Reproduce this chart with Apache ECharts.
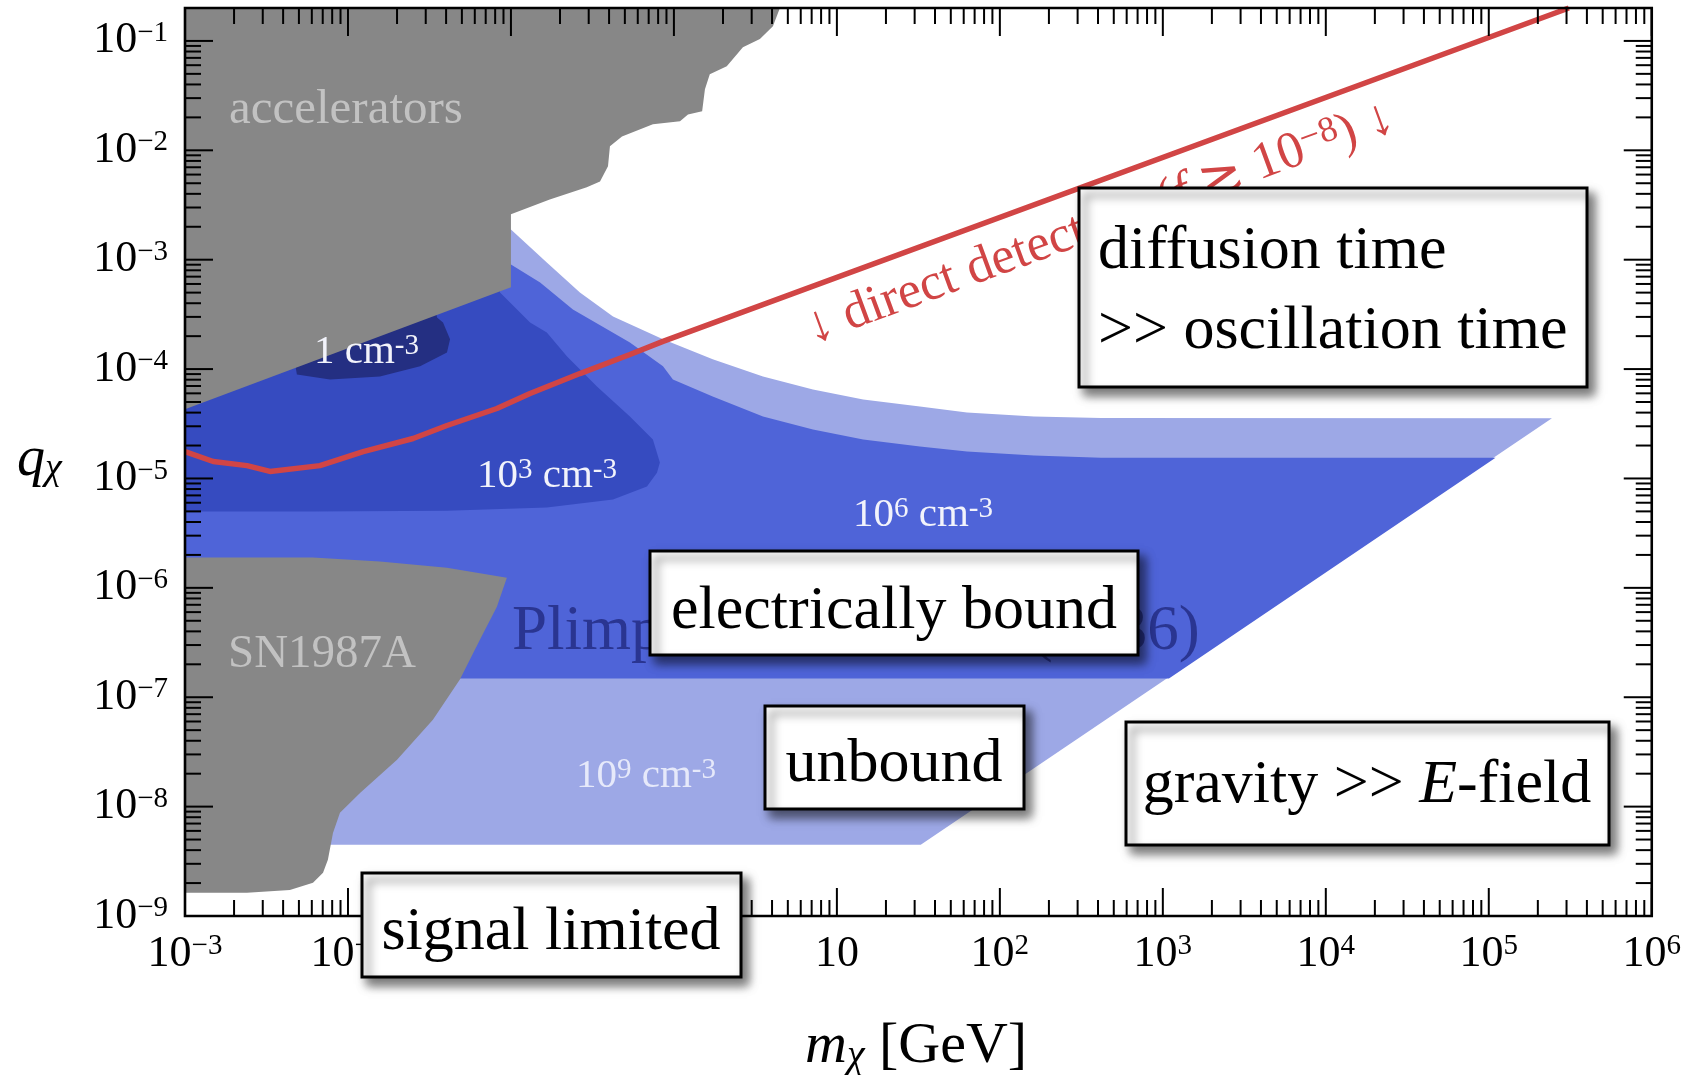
<!DOCTYPE html>
<html>
<head>
<meta charset="utf-8">
<title>Millicharged particle parameter space</title>
<script src="https://cdn.jsdelivr.net/npm/echarts@6/dist/echarts.min.js"></script>
<style>
  html, body { margin: 0; padding: 0; background: #ffffff; }
  #chart { width: 1684px; height: 1075px; }
</style>
</head>
<body>
<div id="chart"></div>
<script>
// ---- axis ranges: particle mass m_chi [GeV] and charge q_chi ----
const massRange = [1e-3, 1e6];
const chargeRange = [1e-9, 0.2];

// tick labels per decade: [mantissa text, superscript]
const xTickLabels = [['10', '\u22123'], ['10', '\u22122'], ['10', '\u22121'], ['1', ''], ['10', ''],
  ['10', '2'], ['10', '3'], ['10', '4'], ['10', '5'], ['10', '6']];
const yTickLabels = [['10', '\u22129'], ['10', '\u22128'], ['10', '\u22127'], ['10', '\u22126'], ['10', '\u22125'],
  ['10', '\u22124'], ['10', '\u22123'], ['10', '\u22122'], ['10', '\u22121']];

// ---- excluded regions, [mass GeV, charge] ----
const acceleratorBound = [
  [1e-3, 0.2], [4.47, 0.2], [4.05, 0.136], [3.37, 0.104], [2.65, 0.0876], [2.11, 0.0587],
  [1.66, 0.0495], [1.55, 0.0361], [1.49, 0.0227], [1.22, 0.0213], [1.09, 0.0184], [0.743, 0.0173],
  [0.48, 0.0134], [0.405, 0.0109], [0.394, 0.00714], [0.352, 0.0052], [0.292, 0.00459],
  [0.173, 0.00356], [0.1, 0.0026], [0.1, 5.6e-4], [1e-3, 4.3e-5]
];
const sn1987aBound = [
  [1e-3, 1.89e-6], [6.1e-3, 1.89e-6], [0.0157, 1.74e-6], [0.0405, 1.53e-6], [0.0944, 1.24e-6],
  [0.082, 6.73e-7], [0.0645, 3.36e-7], [0.0486, 1.45e-7], [0.0332, 6.22e-8], [0.02, 2.68e-8],
  [0.0119, 1.34e-8], [8.93e-3, 8.77e-9], [8.09e-3, 5.75e-9], [7.53e-3, 3.26e-9], [7.03e-3, 2.48e-9],
  [6.1e-3, 2.01e-9], [4.4e-3, 1.73e-9], [2.4e-3, 1.63e-9], [1e-3, 1.63e-9]
];

// ---- local density contours (cm^-3) ----
const density1e9 = [
  [1e-3, 1e-3], [0.09, 2.5e-3], [0.1, 1.89e-3], [0.166, 9.44e-4], [0.265, 5.02e-4], [0.423, 3.03e-4],
  [0.857, 1.87e-4], [1.73, 1.23e-4], [3.52, 8.57e-5], [7.13, 6.52e-5], [14.5, 5.28e-5], [32.3, 4.55e-5],
  [62.8, 4.01e-5], [162, 3.69e-5], [417, 3.58e-5], [2.44e5, 3.55e-5], [32.7, 4.48e-9], [1e-3, 4.48e-9]
];
const density1e6 = [
  [1e-3, 4e-4], [0.09, 1.2e-3], [0.1, 9.06e-4], [0.151, 6.19e-4], [0.24, 3.51e-4], [0.537, 1.75e-4],
  [0.857, 1.06e-4], [0.986, 8.04e-5], [1.73, 5.61e-5], [3.52, 3.68e-5], [7.13, 2.8e-5], [14.5, 2.27e-5],
  [32.3, 1.96e-5], [62.8, 1.76e-5], [162, 1.62e-5], [417, 1.55e-5], [1.1e5, 1.55e-5], [1.09e3, 1.48e-7],
  [1e-3, 1.48e-7]
];
const density1e3 = [
  [1e-3, 1e-3], [0.08, 1e-3], [0.0857, 5.0e-4], [0.131, 2.67e-4], [0.166, 2.16e-4], [0.221, 1.3e-4],
  [0.337, 6.93e-5], [0.537, 3.68e-5], [0.743, 2.27e-5], [0.82, 1.4e-5], [0.787, 1.13e-5], [0.683, 8.43e-6],
  [0.423, 6.41e-6], [0.166, 5.42e-6], [0.0405, 5.08e-6], [6.1e-3, 4.98e-6], [1e-3, 4.98e-6]
];
const density1 = [
  [4e-3, 5e-4], [4.86e-3, 8.93e-5], [7.76e-3, 8.04e-5], [0.0157, 8.57e-5], [0.0277, 1.06e-4],
  [0.0405, 1.42e-4], [0.0423, 1.87e-4], [0.0383, 2.67e-4], [0.0352, 2.96e-4], [0.03, 1e-3]
];

// ---- direct detection reach ----
const directDetection = [
  [1e-3, 1.76e-5], [1.49e-3, 1.43e-5], [2.4e-3, 1.31e-5], [3.32e-3, 1.16e-5], [6.73e-3, 1.31e-5],
  [0.0124, 1.76e-5], [0.0251, 2.32e-5], [0.0405, 3.05e-5], [0.082, 4.36e-5], [0.131, 5.98e-5],
  [0.265, 9.1e-5], [0.537, 1.36e-4], [0.857, 1.79e-4], [3.1e5, 0.2]
];

const FONT = '"Liberation Serif", "Times New Roman", "DejaVu Serif", serif';
const COLORS = {
  excluded: '#878787',
  d9: '#9da8e6',
  d6: '#4f64d8',
  d3: '#364bc0',
  d0: '#242f82',
  red: '#d14545'
};

function regionSeries(name, points, color) {
  return {
    type: 'custom', name, coordinateSystem: 'cartesian2d', silent: true, z: 2,
    data: [points[0]], encode: { x: 0, y: 1 },
    renderItem: (params, api) => ({
      type: 'polygon',
      shape: { points: points.map(p => api.coord(p)) },
      style: { fill: color }
    })
  };
}

// decade and 2..9 ticks drawn on all four sides, pointing inwards
const decadeSteps = [2, 3, 4, 5, 6, 7, 8, 9];
function decadeTicks(lo, hi) { const out = []; for (let e = lo; e <= hi; e++) out.push(Math.pow(10, e)); return out; }
function subTicks(lo, hi, maxVal) {
  const out = [];
  for (let e = lo; e < hi; e++) for (const k of decadeSteps) {
    const v = k * Math.pow(10, e);
    if (v < maxVal * 0.999) out.push(v);
  }
  return out;
}
function tickSeries(values, dir, len) {
  return {
    type: 'custom', silent: true, z: 20,
    data: values.map(v => dir === 'x' ? [v, chargeRange[0]] : [massRange[0], v]),
    encode: { x: 0, y: 1 },
    renderItem: (params, api) => {
      const cs = params.coordSys;
      const p = api.coord([api.value(0), api.value(1)]);
      const st = { stroke: '#000', lineWidth: 2 };
      if (dir === 'x') {
        const b = cs.y + cs.height, t = cs.y;
        return { type: 'group', children: [
          { type: 'line', shape: { x1: p[0], y1: b, x2: p[0], y2: b - len }, style: st },
          { type: 'line', shape: { x1: p[0], y1: t, x2: p[0], y2: t + len }, style: st }
        ] };
      }
      const l = cs.x, r = cs.x + cs.width;
      return { type: 'group', children: [
        { type: 'line', shape: { x1: l, y1: p[1], x2: l + len, y2: p[1] }, style: st },
        { type: 'line', shape: { x1: r, y1: p[1], x2: r - len, y2: p[1] }, style: st }
      ] };
    }
  };
}
const frameSeries = {
  type: 'custom', silent: true, z: 21,
  data: [[massRange[0], chargeRange[0]]], encode: { x: 0, y: 1 },
  renderItem: (params) => {
    const cs = params.coordSys;
    return { type: 'rect', shape: { x: cs.x, y: cs.y, width: cs.width, height: cs.height },
      style: { fill: 'none', stroke: '#000', lineWidth: 2.6 } };
  }
};

function decadeFormatter(list, firstExp) {
  return function (v) {
    const e = Math.log10(v), r = Math.round(e);
    if (Math.abs(e - r) > 1e-6) return '';
    const item = list[r - firstExp];
    if (!item) return '';
    return item[1] ? '{b|' + item[0] + '}{s|' + item[1] + '}' : '{b|' + item[0] + '}';
  };
}
const tickRich = {
  b: { fontFamily: FONT, fontSize: 44, lineHeight: 44, verticalAlign: 'bottom', color: '#000' },
  s: { fontFamily: FONT, fontSize: 29, lineHeight: 24, verticalAlign: 'top', color: '#000' }
};

// ---- annotation helpers ----
const DENSITY_SIZE = 41;
function densityLabel(x, y, base, color) {
  const sup = Math.round(DENSITY_SIZE * 0.7);
  const rich = {
    t: { fontFamily: FONT, fontSize: DENSITY_SIZE, lineHeight: DENSITY_SIZE, verticalAlign: 'bottom', fill: color, color },
    s: { fontFamily: FONT, fontSize: sup, lineHeight: Math.round(DENSITY_SIZE * 0.55), verticalAlign: 'top', fill: color, color }
  };
  const text = base.exp
    ? '{t|' + base.mant + '}{s|' + base.exp + '}{t| cm}{s|-3}'
    : '{t|' + base.mant + ' cm}{s|-3}';
  return { type: 'text', x, y, z: 50, silent: true,
    style: { text, align: 'left', verticalAlign: 'middle', fill: color, rich } };
}
function plainLabel(x, y, text, size, color, align) {
  return { type: 'text', x, y, z: 50, silent: true,
    style: { text, fontFamily: FONT, fontSize: size, fill: color, align: align || 'left', verticalAlign: 'middle' } };
}
function box(x, y, w, h) {
  return { type: 'rect', z: 100, silent: true,
    shape: { x, y, width: w, height: h },
    style: { fill: '#ffffff', stroke: '#000000', lineWidth: 3,
      shadowBlur: 10, shadowOffsetX: 6, shadowOffsetY: 7, shadowColor: 'rgba(0,0,0,0.55)' } };
}
const BOX_SIZE = 62;
function boxText(x, y, text, align, rich) {
  const el = { type: 'text', x, y, z: 101, silent: true,
    style: { text, fontFamily: FONT, fontSize: BOX_SIZE, fill: '#000', align: align || 'center', verticalAlign: 'middle' } };
  if (rich) el.style.rich = rich;
  return el;
}
const italicRich = {
  r: { fontFamily: FONT, fontSize: BOX_SIZE, fill: '#000', color: '#000' },
  i: { fontFamily: FONT, fontSize: BOX_SIZE, fontStyle: 'italic', fill: '#000', color: '#000' }
};

const option = {
  animation: false,
  backgroundColor: '#ffffff',
  grid: { left: 185, right: 32, top: 8, bottom: 159, show: false },
  xAxis: {
    type: 'log', logBase: 10, min: massRange[0], max: massRange[1], splitNumber: 9,
    axisLine: { show: false }, axisTick: { show: false }, splitLine: { show: false },
    axisLabel: { margin: 16, formatter: decadeFormatter(xTickLabels, -3), rich: tickRich }
  },
  yAxis: {
    type: 'log', logBase: 10, min: chargeRange[0], max: chargeRange[1], splitNumber: 9,
    axisLine: { show: false }, axisTick: { show: false }, splitLine: { show: false },
    axisLabel: { margin: 17, formatter: decadeFormatter(yTickLabels, -9), rich: tickRich }
  },
  series: [
    regionSeries('10^9 cm^-3', density1e9, COLORS.d9),
    regionSeries('10^6 cm^-3', density1e6, COLORS.d6),
    regionSeries('10^3 cm^-3', density1e3, COLORS.d3),
    regionSeries('1 cm^-3', density1, COLORS.d0),
    regionSeries('accelerators', acceleratorBound, COLORS.excluded),
    regionSeries('SN1987A', sn1987aBound, COLORS.excluded),
    {
      type: 'line', name: 'direct detection', data: directDetection, z: 5,
      showSymbol: false, symbol: 'none', clip: true, silent: true,
      lineStyle: { color: COLORS.red, width: 5.5 }
    },
    tickSeries(decadeTicks(-3, 6), 'x', 28),
    tickSeries(subTicks(-3, 6, massRange[1]), 'x', 16),
    tickSeries(decadeTicks(-9, -1), 'y', 28),
    tickSeries(subTicks(-9, 0, chargeRange[1]), 'y', 16),
    frameSeries
  ],
  graphic: { elements: [
    plainLabel(229, 110, 'accelerators', 49, '#c2c2c2'),
    plainLabel(228, 655, 'SN1987A', 47, '#c2c2c2'),
    densityLabel(314, 352, { mant: '1', exp: '' }, '#f2f3fb'),
    densityLabel(477, 476, { mant: '10', exp: '3' }, '#f2f3fb'),
    densityLabel(853, 515, { mant: '10', exp: '6' }, '#f2f3fb'),
    densityLabel(576, 776, { mant: '10', exp: '9' }, '#e6e9fa'),
    plainLabel(512, 632, 'Plimpton & Lawton (1936)', 63, '#2a3591'),
    {
      type: 'text', x: 808, y: 331, rotation: 0.352, z: 50, silent: true,
      style: {
        text: '{r|\u2193 direct detection (}{i|f}{r| \u2273 10}{s|\u22128}{r|) \u2193}',
        align: 'left', verticalAlign: 'middle', fill: COLORS.red,
        rich: {
          r: { fontFamily: FONT, fontSize: 52, lineHeight: 52, verticalAlign: 'bottom', fill: COLORS.red },
          i: { fontFamily: FONT, fontSize: 52, lineHeight: 52, verticalAlign: 'bottom', fontStyle: 'italic', fill: COLORS.red },
          s: { fontFamily: FONT, fontSize: 36, lineHeight: 32, verticalAlign: 'top', fill: COLORS.red }
        }
      }
    },
    // axis titles
    {
      type: 'text', x: 17, y: 460, z: 50, silent: true,
      style: { text: '{q|q}{c|\u03c7}', align: 'left', verticalAlign: 'middle', fill: '#000',
        rich: { q: { fontFamily: FONT, fontSize: 56, lineHeight: 56, fontStyle: 'italic', verticalAlign: 'top', fill: '#000' },
                c: { fontFamily: FONT, fontSize: 38, lineHeight: 42, fontStyle: 'italic', verticalAlign: 'bottom', fill: '#000' } } }
    },
    {
      type: 'text', x: 805, y: 1047, z: 50, silent: true,
      style: { text: '{m|m}{c|\u03c7}{r| [GeV]}', align: 'left', verticalAlign: 'middle', fill: '#000',
        rich: { m: { fontFamily: FONT, fontSize: 58, lineHeight: 58, fontStyle: 'italic', verticalAlign: 'top', fill: '#000' },
                c: { fontFamily: FONT, fontSize: 40, lineHeight: 44, fontStyle: 'italic', verticalAlign: 'bottom', fill: '#000' },
                r: { fontFamily: FONT, fontSize: 58, lineHeight: 58, verticalAlign: 'top', fill: '#000' } } }
    },
    // regime boxes
    box(1079, 188, 508, 199),
    boxText(1098, 252, 'diffusion time', 'left'),
    boxText(1098, 332, '>> oscillation time', 'left'),
    box(650, 551, 488, 104),
    boxText(894, 612, 'electrically bound'),
    box(765, 706, 259, 103),
    boxText(894, 765, 'unbound'),
    box(1126, 722, 483, 123),
    boxText(1367, 786, '{r|gravity >> }{i|E}{r|-field}', 'center', italicRich),
    box(362, 873, 379, 104),
    boxText(551, 933, 'signal limited')
  ] }
};

const chart = echarts.init(document.getElementById('chart'), null, { renderer: 'canvas' });
chart.setOption(option);
</script>
</body>
</html>
